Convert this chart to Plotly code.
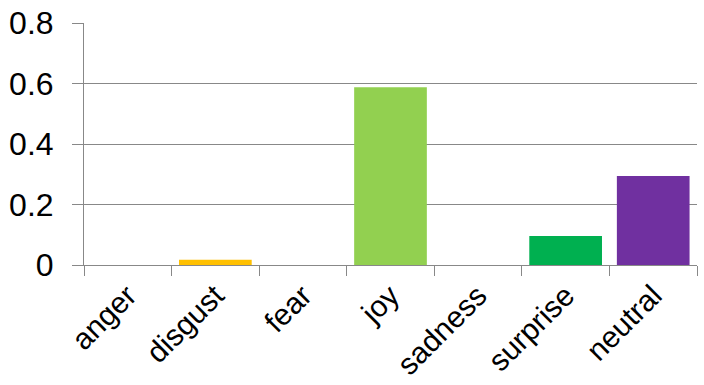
import plotly.graph_objects as go

categories = ["anger", "disgust", "fear", "joy", "sadness", "surprise", "neutral"]
values = [0.0, 0.017, 0.0, 0.588, 0.0, 0.096, 0.294]
colors = ["#C00000", "#FFC000", "#4472C4", "#92D050", "#5B9BD5", "#00B050", "#7030A0"]
y_ticks = [0, 0.2, 0.4, 0.6, 0.8]
y_tick_labels = ["0", "0.2", "0.4", "0.6", "0.8"]

axis_color = "#888888"

fig = go.Figure(go.Bar(x=categories, y=values, marker=dict(color=colors, line=dict(width=0))))

fig.update_layout(
    width=704, height=385,
    margin=dict(l=84, r=7, t=23, b=120, autoexpand=False),
    paper_bgcolor="white", plot_bgcolor="white",
    bargap=0.17,
    font=dict(family="Liberation Sans, Arial, sans-serif", size=30, color="black"),
    showlegend=False,
)
fig.update_yaxes(
    range=[0, 0.8], tickvals=y_ticks, ticktext=y_tick_labels,
    showgrid=True, gridcolor=axis_color, gridwidth=1,
    showline=True, linecolor=axis_color, linewidth=1,
    ticks="outside", ticklen=11, tickcolor=axis_color, ticklabelstandoff=12,
    zeroline=False, tickfont=dict(size=32), automargin=False,
)
fig.update_xaxes(
    showline=True, linecolor=axis_color, linewidth=1,
    ticks="outside", ticklen=10, tickcolor=axis_color, tickson="boundaries",
    tickangle=-45, showgrid=False, tickfont=dict(size=30), automargin=False,
)

fig.write_html(
    "out.html",
    config={"displayModeBar": False},
    post_script="document.body.style.margin='0';document.body.style.overflow='hidden';",
)
